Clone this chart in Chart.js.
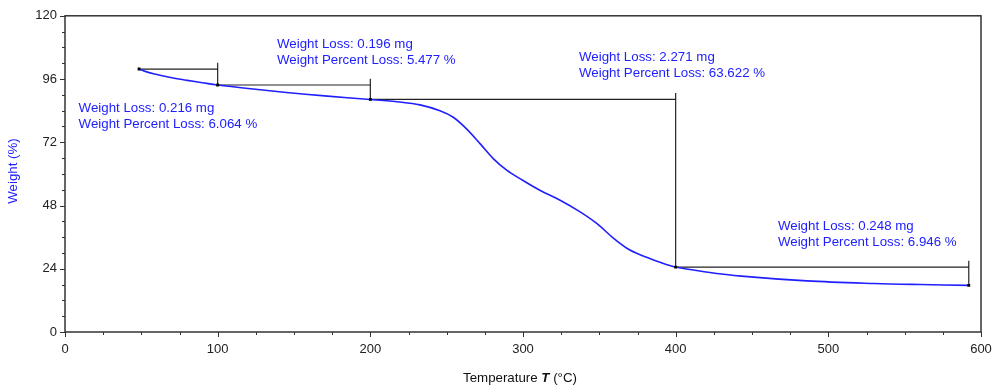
<!DOCTYPE html>
<html lang="en">
<head>
    <meta charset="UTF-8">
    <title>TGA - Weight vs Temperature</title>
    <script src="https://cdn.jsdelivr.net/npm/chart.js"></script>
    <style>
        body {
            margin: 0;
            background: #fff;
        }

        .chart-box {
            width: 1002px;
            height: 390px;
        }
    </style>
</head>
<body>
    <div class="chart-box">
        <canvas id="tgaChart" width="1002" height="390"></canvas>
    </div>

<script>
    // TGA curve, temperature (°C) vs remaining weight (%)
    const temps = [48.5, 52, 58, 70, 80, 90, 100, 120, 145, 170, 200, 219, 232.5, 245.6, 254.3, 263, 272, 280.5, 289.3, 298, 311, 324.3, 337.4, 348.3, 359.2, 368, 376.7, 388.7, 400, 420, 443, 486, 530, 560, 592];
    const weights = [99.8, 99.0, 98.0, 96.5, 95.5, 94.6, 93.74, 92.4, 90.9, 89.6, 88.26, 87.3, 86.2, 84.0, 81.5, 77.1, 71.4, 65.8, 61.4, 58.2, 53.8, 50.0, 45.6, 41.2, 35.6, 31.8, 29.3, 26.7, 24.64, 22.8, 21.2, 19.4, 18.4, 18.0, 17.7];

    // weight-loss steps
    const stepStartT = [48.5, 100, 200, 400];
    const stepEndT = [100, 200, 400, 592];
    const startWeight = 99.8;
    const lossMg = [0.216, 0.196, 2.271, 0.248];
    const lossPct = [6.064, 5.477, 63.622, 6.946];

    // where each step's text sits (°C, %)
    const labelT = [8.9, 138.9, 336.7, 467.0];
    const labelW = [84.7, 109.2, 104.2, 40.0];

    const xTicks = [0, 100, 200, 300, 400, 500, 600];
    const yTicks = [0, 24, 48, 72, 96, 120];

    const BLUE = '#2020ff';
    const FONT = '"Liberation Sans", Arial, sans-serif';

    // step levels follow from the percent losses
    const stepW = [startWeight];
    lossPct.forEach(p => stepW.push(stepW[stepW.length - 1] - p));

    // one polyline per step: across, a short rise, then down to the next level
    const stepPoints = [];
    stepStartT.forEach((t, i) => {
        stepPoints.push({ x: t, y: stepW[i] });
        stepPoints.push({ x: stepEndT[i], y: stepW[i] });
        stepPoints.push({ x: stepEndT[i], y: stepW[i] + 2.4 });
        stepPoints.push({ x: stepEndT[i], y: stepW[i + 1] });
        stepPoints.push({ x: NaN, y: NaN });
    });

    const markerPoints = stepStartT.map((t, i) => ({ x: t, y: stepW[i] }));
    markerPoints.push({ x: stepEndT[stepEndT.length - 1], y: stepW[stepW.length - 1] });

    const decor = {
        id: 'decor',
        afterDraw(chart) {
            const ctx = chart.ctx;
            const a = chart.chartArea;
            const xs = chart.scales.x;
            const ys = chart.scales.y;
            ctx.save();

            // frame
            ctx.strokeStyle = '#333';
            ctx.lineWidth = 1.5;
            ctx.strokeRect(a.left, a.top, a.right - a.left, a.bottom - a.top);

            // ticks, major and minor
            ctx.lineWidth = 1;
            ctx.beginPath();
            for (let v = 0; v <= 600; v += 25) {
                const px = Math.round(xs.getPixelForValue(v)) + 0.5;
                const len = v % 100 === 0 ? 5 : 3;
                ctx.moveTo(px, a.bottom);
                ctx.lineTo(px, a.bottom + len);
            }
            for (let v = 0; v <= 120; v += 6) {
                const py = Math.round(ys.getPixelForValue(v)) + 0.5;
                const len = v % 24 === 0 ? 5 : 3;
                ctx.moveTo(a.left, py);
                ctx.lineTo(a.left - len, py);
            }
            ctx.stroke();

            // step texts
            ctx.fillStyle = BLUE;
            ctx.font = '13.3px ' + FONT;
            ctx.textBaseline = 'middle';
            ctx.textAlign = 'left';
            labelT.forEach((t, i) => {
                const px = xs.getPixelForValue(t);
                const py = ys.getPixelForValue(labelW[i]);
                ctx.fillText('Weight Loss: ' + lossMg[i].toFixed(3) + ' mg', px, py);
                ctx.fillText('Weight Percent Loss: ' + lossPct[i].toFixed(3) + ' %', px, py + 15.7);
            });

            // y title
            ctx.save();
            ctx.translate(13, 171);
            ctx.rotate(-Math.PI / 2);
            ctx.textAlign = 'center';
            ctx.fillText('Weight (%)', 0, 0);
            ctx.restore();

            // x title with italic bold T
            ctx.fillStyle = '#111';
            const parts = [
                ['Temperature ', '13.3px ' + FONT],
                ['T', 'italic bold 13.3px ' + FONT],
                [' (°C)', '13.3px ' + FONT]
            ];
            let total = 0;
            parts.forEach(p => { ctx.font = p[1]; total += ctx.measureText(p[0]).width; });
            let tx = 520 - total / 2;
            parts.forEach(p => {
                ctx.font = p[1];
                ctx.fillText(p[0], tx, 378);
                tx += ctx.measureText(p[0]).width;
            });

            ctx.restore();
        }
    };

    const ctx = document.getElementById('tgaChart').getContext('2d');
    new Chart(ctx, {
        type: 'line',
        data: {
            datasets: [
                {
                    label: 'Steps',
                    data: stepPoints,
                    borderColor: '#222',
                    borderWidth: 1.2,
                    pointRadius: 0,
                    spanGaps: false,
                    tension: 0,
                    order: 2
                },
                {
                    label: 'Weight',
                    data: temps.map((t, i) => ({ x: t, y: weights[i] })),
                    borderColor: BLUE,
                    borderWidth: 1.6,
                    pointRadius: 0,
                    tension: 0.35,
                    order: 1
                },
                {
                    label: 'Markers',
                    data: markerPoints,
                    showLine: false,
                    pointStyle: 'rect',
                    pointRadius: 2,
                    backgroundColor: '#000',
                    borderColor: '#000',
                    borderWidth: 0,
                    order: 0
                }
            ]
        },
        options: {
            responsive: false,
            animation: false,
            layout: {
                padding: { top: 15, right: 21, left: 0, bottom: 0 }
            },
            plugins: {
                legend: { display: false },
                tooltip: { enabled: false }
            },
            scales: {
                x: {
                    type: 'linear',
                    min: 0,
                    max: 600,
                    afterBuildTicks: s => { s.ticks = xTicks.map(v => ({ value: v })); },
                    afterFit: s => { s.height = 58; },
                    grid: { display: false, drawTicks: false },
                    border: { display: false },
                    ticks: {
                        padding: 10,
                        color: '#222',
                        font: { family: FONT, size: 13 },
                        maxRotation: 0
                    }
                },
                y: {
                    min: 0,
                    max: 120,
                    afterBuildTicks: s => { s.ticks = yTicks.map(v => ({ value: v })); },
                    afterFit: s => { s.width = 65; },
                    grid: { display: false, drawTicks: false },
                    border: { display: false },
                    ticks: {
                        padding: 8,
                        color: '#222',
                        font: { family: FONT, size: 13 }
                    }
                }
            }
        },
        plugins: [decor]
    });
</script>
</body>
</html>
